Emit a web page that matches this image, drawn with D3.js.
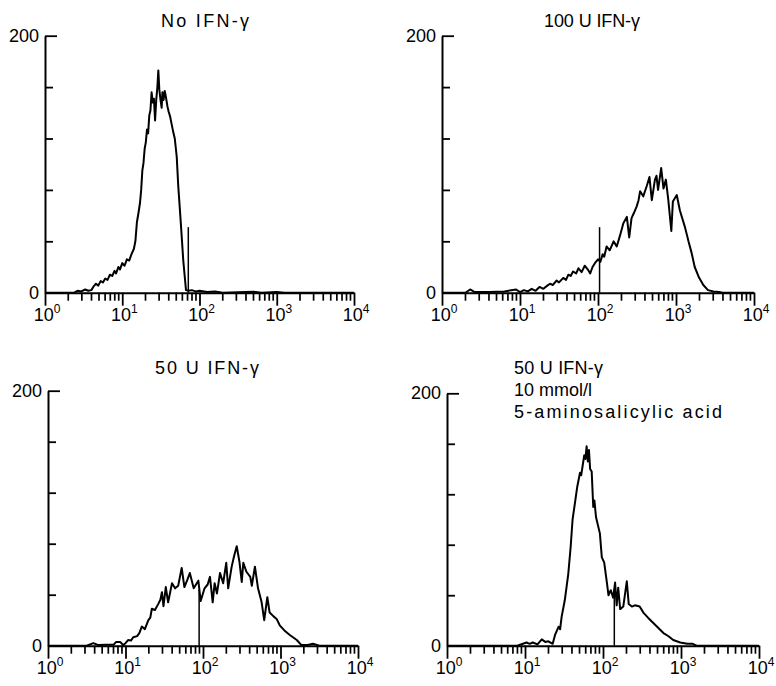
<!DOCTYPE html>
<html>
<head>
<meta charset="utf-8">
<script src="https://cdn.jsdelivr.net/npm/d3@7"></script>
<style>
  body { margin: 0; background: #fff; }
  text { font-family: "Liberation Sans", Arial, sans-serif; fill: #000; }
</style>
</head>
<body>
<div id="chart"></div>
<script>
// histogram traces: [log10 channel, cell count]
const noIfnCurve = [[0,0],[0.38,0],[0.42,1.5],[0.47,1],[0.52,2.5],[0.56,1.5],[0.6,2],[0.625,4.5],[0.66,7],[0.69,5.5],[0.72,9],[0.75,8],[0.78,11],[0.81,10],[0.84,14],[0.87,13],[0.9,17],[0.92,15],[0.95,20],[0.97,18],[1.0,23],[1.03,21],[1.06,26],[1.09,25],[1.12,30],[1.15,34],[1.17,40],[1.19,55],[1.21,62],[1.23,70],[1.245,80],[1.26,95],[1.275,101],[1.29,112],[1.305,117],[1.32,127],[1.335,124],[1.35,138],[1.365,142],[1.38,156],[1.395,148],[1.41,151],[1.425,134],[1.44,150],[1.455,160],[1.467,173],[1.48,158],[1.495,150],[1.51,144],[1.52,156],[1.535,150],[1.55,157],[1.566,152],[1.585,145],[1.6,141],[1.62,137],[1.64,131],[1.66,125],[1.68,120],[1.705,106],[1.725,83],[1.755,57],[1.79,25],[1.825,2],[1.86,1.5],[1.9,2],[1.95,1],[2.0,1.5],[2.1,0.5],[2.2,1],[2.3,0],[2.7,0.8],[2.8,0],[3.0,0.5],[3.1,0],[4,0]];

const ifn100Curve = [[0,0],[0.3,0],[0.36,2.5],[0.42,0.5],[0.6,0.5],[0.8,1],[0.95,2.5],[1.0,0.5],[1.05,2],[1.1,1],[1.15,3],[1.2,1.5],[1.25,4.5],[1.3,3],[1.35,5.5],[1.385,7],[1.42,6],[1.47,9.5],[1.5,8],[1.555,11.5],[1.59,10],[1.62,14],[1.65,13],[1.68,16.5],[1.72,15],[1.75,19],[1.79,16],[1.83,21],[1.87,18],[1.9,15],[1.93,20],[1.96,23],[2.0,26],[2.03,24],[2.06,30],[2.08,28],[2.11,36],[2.15,33],[2.2,40],[2.24,36],[2.28,44],[2.325,54],[2.37,59],[2.4,43],[2.43,58],[2.46,62],[2.495,67],[2.52,72],[2.54,79],[2.58,75],[2.625,83],[2.66,90],[2.69,72],[2.73,88],[2.75,91],[2.77,80],[2.81,97],[2.84,81],[2.87,88],[2.9,73],[2.94,48],[2.96,71],[3.01,76],[3.05,64],[3.08,58],[3.115,51],[3.14,45],[3.16,40],[3.2,31],[3.24,20],[3.29,12.5],[3.35,6],[3.41,2],[3.48,1],[3.55,0.5],[3.6,0],[4,0]];

const ifn50Curve = [[0,0],[0.5,0],[0.585,2],[0.65,0.5],[0.85,1],[0.88,3],[0.93,3],[0.97,0.5],[1.0,2],[1.036,4.5],[1.07,4],[1.1,6.6],[1.15,7.5],[1.18,10],[1.21,15],[1.25,13],[1.295,20],[1.32,22],[1.34,29],[1.38,28],[1.425,33],[1.45,36],[1.47,42],[1.49,31],[1.52,46],[1.55,34],[1.6,49],[1.64,45],[1.68,47],[1.725,61],[1.76,46],[1.8,52],[1.83,57],[1.88,45],[1.94,51],[1.97,35],[2.02,45],[2.06,48],[2.09,54],[2.125,34],[2.15,49],[2.18,41],[2.22,57],[2.26,49],[2.3,65],[2.325,45],[2.37,62],[2.4,70],[2.435,78],[2.47,66],[2.5,50],[2.52,65],[2.56,58],[2.61,54],[2.63,47],[2.67,62],[2.71,45],[2.755,34.5],[2.79,20],[2.83,38],[2.86,26],[2.91,23],[2.95,21],[2.99,16],[3.05,12],[3.12,8.4],[3.21,4.5],[3.27,0.5],[3.35,0.5],[3.42,1.5],[3.5,0],[4,0]];

const ifn50AsaCurve = [[0,0],[0.9,0],[1.02,2.5],[1.06,1.5],[1.1,2.5],[1.16,1],[1.215,5],[1.26,3],[1.3,3.5],[1.355,1.5],[1.385,8.5],[1.43,15],[1.45,13],[1.47,23],[1.51,36],[1.555,57],[1.585,78],[1.61,100],[1.64,113],[1.67,126],[1.705,137],[1.72,135],[1.74,143],[1.76,151],[1.775,148],[1.79,158],[1.805,146],[1.82,155],[1.835,140],[1.855,138],[1.875,110],[1.89,115],[1.91,102],[1.96,89],[1.985,70],[2.015,66],[2.05,50],[2.07,40],[2.1,44],[2.13,38],[2.155,50],[2.175,32],[2.195,46],[2.22,29],[2.26,31],[2.305,51],[2.33,33],[2.37,31],[2.41,32],[2.47,31],[2.52,26],[2.58,22],[2.645,18],[2.71,14],[2.775,10],[2.84,7.5],[2.9,4.5],[2.99,2.5],[3.08,1.5],[3.15,1.5],[3.2,0],[4,0]];

// vertical marker line in each panel: [log10 channel, height]
const markers = [[1.855, 51], [2.02, 51], [1.95, 44], [2.145, 43]];

const titles = [["No IFN-\u03b3"], ["100 U IFN-\u03b3"], ["50 U IFN-\u03b3"],
                ["50 U IFN-\u03b3", "10 mmol/l", "5-aminosalicylic acid"]];
const curves = [noIfnCurve, ifn100Curve, ifn50Curve, ifn50AsaCurve];

const decades = [0, 1, 2, 3, 4];
const minorMultipliers = [2, 3, 4, 5, 6, 7, 8, 9];
const yMinorTicks = [40, 80, 120, 160];
const yLabels = [0, 200];

// panel placement on the page
const panels = [
  { x: [45, 354], y: [292.7, 35.7], title: { x: 205, y: 27, anchor: "middle", w: [88] } },
  { x: [442, 754], y: [292.7, 35.7], title: { x: 592, y: 27, anchor: "middle", w: [96] } },
  { x: [48, 358], y: [645.7, 390.7], title: { x: 207, y: 374, anchor: "middle", w: [104] } },
  { x: [447, 759], y: [645.7, 393.3], title: { x: 514, y: 374, anchor: "start", w: [89, null, 208] } }
];

const svg = d3.select("#chart").append("svg")
    .attr("width", 776)
    .attr("height", 686);

panels.forEach(function (p, i) {
    const g = svg.append("g");
    const x = d3.scaleLog().domain([1, 1e4]).range(p.x);
    const y = d3.scaleLinear().domain([0, 200]).range(p.y);

    // minor log ticks 2..9 in each decade
    const minor = [];
    decades.slice(0, 4).forEach(function (d) {
        minorMultipliers.forEach(k => minor.push(k * Math.pow(10, d)));
    });

    // x axis line + decade ticks
    const major = g.append("g")
        .attr("transform", "translate(0," + p.y[0] + ")")
        .call(d3.axisBottom(x).tickValues(decades.map(d => Math.pow(10, d))).tickSize(13).tickSizeOuter(0).tickFormat(""));
    major.select(".domain").attr("stroke", "#000").attr("stroke-width", 2);
    major.selectAll(".tick line").attr("stroke", "#000").attr("stroke-width", 1.8);

    g.selectAll("line.minor")
        .data(minor)
        .join("line")
        .attr("class", "minor")
        .attr("x1", d => x(d))
        .attr("x2", d => x(d))
        .attr("y1", p.y[0])
        .attr("y2", p.y[0] + 8)
        .style("stroke", "#000")
        .style("stroke-width", "1.7px");

    // decade labels 10^n
    const lab = g.selectAll(".xlab")
        .data(decades)
        .enter().append("text")
        .attr("class", "xlab")
        .attr("x", d => x(Math.pow(10, d)) + 2)
        .attr("y", p.y[0] + 28)
        .attr("text-anchor", "middle")
        .attr("font-size", 18);
    lab.append("tspan").text("10");
    lab.append("tspan").attr("dy", -8).attr("font-size", 12).text(d => d);

    // y axis: short inner ticks, longer one at 200
    const yAxis = g.append("g")
        .attr("transform", "translate(" + p.x[0] + ",0)")
        .call(d3.axisRight(y).tickValues(yMinorTicks).tickSize(8).tickSizeOuter(0).tickFormat(""));
    yAxis.select(".domain").attr("stroke", "#000").attr("stroke-width", 2);
    yAxis.selectAll(".tick line").attr("stroke", "#000").attr("stroke-width", 1.8);
    const top = g.append("g")
        .attr("transform", "translate(" + p.x[0] + ",0)")
        .call(d3.axisRight(y).tickValues([200]).tickSize(12).tickFormat(""));
    top.select(".domain").remove();
    top.selectAll(".tick line").attr("stroke", "#000").attr("stroke-width", 1.8);

    g.selectAll(".ylab")
        .data(yLabels)
        .enter().append("text")
        .attr("class", "ylab")
        .attr("x", p.x[0] - 6)
        .attr("y", d => y(d) + 6)
        .attr("text-anchor", "end")
        .attr("font-size", 18)
        .text(d => d);

    // histogram trace
    const line = d3.line()
        .x(d => x(Math.pow(10, d[0])))
        .y(d => y(d[1]));
    g.append("path")
        .datum(curves[i])
        .attr("d", line)
        .attr("fill", "none")
        .attr("stroke", "#000")
        .attr("stroke-width", 2)
        .attr("stroke-linejoin", "round");

    // marker
    const m = markers[i];
    g.append("line")
        .attr("x1", x(Math.pow(10, m[0])))
        .attr("x2", x(Math.pow(10, m[0])))
        .attr("y1", y(0))
        .attr("y2", y(m[1]))
        .attr("stroke", "#000")
        .attr("stroke-width", 1.5);

    // title lines
    titles[i].forEach(function (t, j) {
        const tx = g.append("text")
            .attr("x", p.title.x)
            .attr("y", p.title.y + j * 22)
            .attr("text-anchor", p.title.anchor)
            .attr("font-size", 18)
            .text(t);
        if (p.title.w[j]) tx.attr("textLength", p.title.w[j]).attr("lengthAdjust", "spacing");
    });
});
</script>
</body>
</html>
